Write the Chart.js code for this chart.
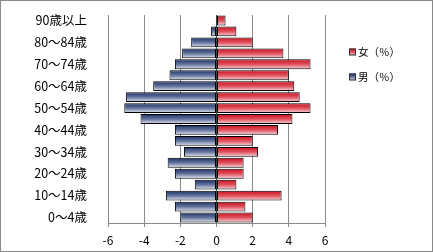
<!DOCTYPE html>
<html>
<head>
<meta charset="utf-8">
<script src="https://cdn.jsdelivr.net/npm/chart.js@4"></script>
<style>
  html, body { margin: 0; padding: 0; background: #fff; }
  #wrap { width: 433px; height: 252px; }
</style>
</head>
<body>
<div id="wrap"><canvas id="pyramid" width="433" height="252"></canvas></div>
<script>
// 年齢階級（下から上へ）
const ageGroups = ['0～4歳', '5～9歳', '10～14歳', '15～19歳', '20～24歳', '25～29歳',
    '30～34歳', '35～39歳', '40～44歳', '45～49歳', '50～54歳', '55～59歳',
    '60～64歳', '65～69歳', '70～74歳', '75～79歳', '80～84歳', '85～89歳', '90歳以上'];
// 男（％）は左側なのでマイナス値
const male = [-2.0, -2.3, -2.8, -1.2, -2.3, -2.7, -1.8, -2.3, -2.3, -4.2,
    -5.1, -5.0, -3.5, -2.6, -2.3, -1.9, -1.4, -0.3, 0];
const female = [2.0, 1.6, 3.6, 1.1, 1.5, 1.5, 2.3, 2.0, 3.4, 4.2,
    5.2, 4.6, 4.3, 4.0, 5.2, 3.7, 2.0, 1.1, 0.5];
const xTicks = [-6, -4, -2, 0, 2, 4, 6];
const legendNames = ['女（％）', '男（％）'];

const JP = "'Noto Sans CJK JP', 'Noto Sans', sans-serif";
const RED = ['#c8101e', '#e0505c', '#f6d8de'];
const BLUE = ['#1b3064', '#62729c', '#e4e8f1'];
const CAT_PCT = 0.9;

function fillGrad(ctx, top, bottom, colors) {
    const g = ctx.createLinearGradient(0, top, 0, bottom);
    g.addColorStop(0, colors[0]);
    g.addColorStop(0.5, colors[1]);
    g.addColorStop(1, colors[2]);
    return g;
}

function barFill(colors) {
    return (c) => {
        const chart = c.chart;
        const y = chart.scales.y;
        if (!chart.chartArea || !y || c.dataIndex === undefined) return colors[0];
        const mid = y.getPixelForValue(c.dataIndex);
        const row = Math.abs(y.getPixelForValue(1) - y.getPixelForValue(0));
        const half = row * CAT_PCT / 2;
        return fillGrad(chart.ctx, mid - half, mid + half, colors);
    };
}

// 枠線と凡例
const frame = {
    id: 'frame',
    beforeDraw(chart) {
        const ctx = chart.ctx;
        ctx.save();
        ctx.fillStyle = '#fff';
        ctx.fillRect(0, 0, chart.width, chart.height);
        ctx.restore();
    },
    afterDraw(chart) {
        const ctx = chart.ctx;
        ctx.save();
        ctx.strokeStyle = '#8a8a8a';
        ctx.lineWidth = 1;
        ctx.strokeRect(0.5, 0.5, chart.width - 1, chart.height - 1);
        const items = [[legendNames[0], RED, 52], [legendNames[1], BLUE, 77]];
        ctx.font = '10.5px ' + JP;
        ctx.textBaseline = 'middle';
        items.forEach(([name, col, yc]) => {
            ctx.fillStyle = fillGrad(ctx, yc - 3.5, yc + 3.5, col);
            ctx.fillRect(349, yc - 3.5, 7, 7);
            ctx.strokeStyle = '#333';
            ctx.strokeRect(349.5, yc - 3, 6, 6);
            ctx.fillStyle = '#000';
            ctx.fillText(name, 358, yc + 0.5);
        });
        ctx.restore();
    }
};

new Chart(document.getElementById('pyramid'), {
    type: 'bar',
    data: {
        labels: ageGroups,
        datasets: [
            {
                label: legendNames[1],
                data: male,
                backgroundColor: barFill(BLUE),
                borderColor: '#000',
                borderWidth: 1,
                borderSkipped: false,
                categoryPercentage: CAT_PCT,
                barPercentage: 1
            },
            {
                label: legendNames[0],
                data: female,
                backgroundColor: barFill(RED),
                borderColor: '#000',
                borderWidth: 1,
                borderSkipped: false,
                categoryPercentage: CAT_PCT,
                barPercentage: 1
            }
        ]
    },
    options: {
        indexAxis: 'y',
        responsive: false,
        animation: false,
        layout: { padding: { top: 15, right: 108, bottom: 0, left: 0 } },
        plugins: {
            legend: { display: false },
            tooltip: { enabled: false }
        },
        scales: {
            x: {
                stacked: true,
                min: -6,
                max: 6,
                afterBuildTicks: (s) => { s.ticks = xTicks.map(v => ({ value: v })); },
                afterFit: (s) => { s.height = 29; s.paddingLeft = 0; s.paddingRight = 0; },
                border: { display: true, color: '#8a8a8a' },
                grid: {
                    color: (c) => c.tick && c.tick.value === 0 ? '#404040' : '#8a8a8a',
                    tickLength: 4,
                    tickColor: '#8a8a8a'
                },
                ticks: {
                    color: '#000',
                    padding: 6,
                    font: { family: JP, size: 12 }
                }
            },
            y: {
                stacked: true,
                reverse: true,
                afterFit: (s) => { s.width = 108; s.paddingTop = 0; s.paddingBottom = 0; },
                border: { display: false },
                grid: { display: false },
                ticks: {
                    autoSkip: false,
                    color: '#000',
                    padding: 13,
                    font: { family: JP, size: 12.5 },
                    callback: function (v, i) { return i % 2 === 0 ? this.getLabelForValue(v) : ''; }
                }
            }
        }
    },
    plugins: [frame]
});
</script>
</body>
</html>
